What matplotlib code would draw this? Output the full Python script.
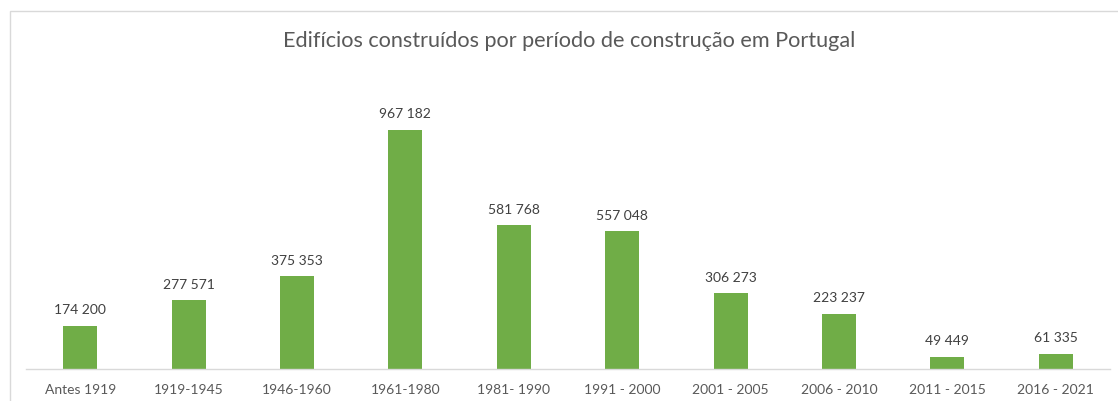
import matplotlib.pyplot as plt
from matplotlib.patches import Rectangle

# ==============================
# Data
# ==============================
periods = ["Antes 1919", "1919-1945", "1946-1960", "1961-1980", "1981- 1990",
           "1991 - 2000", "2001 - 2005", "2006 - 2010", "2011 - 2015", "2016 - 2021"]
buildings = [174200, 277571, 375353, 967182, 581768,
             557048, 306273, 223237, 49449, 61335]

W, H = 1118, 401
plt.rcParams['font.family'] = ['Lato', 'DejaVu Sans']

fig = plt.figure(figsize=(W / 100, H / 100), dpi=100)
fig.patch.set_facecolor("white")

# chart frame (Excel-style border)
fig.patches.append(Rectangle((10 / W, -0.1), (W - 10 + 20) / W, 1.1 - 11 / H,
                             transform=fig.transFigure, fill=False,
                             edgecolor="#D9D9D9", linewidth=1))

# plot area in pixel coords
left, right = 26, 1110
top, bottom = 72.5, 369
ax = fig.add_axes([left / W, 1 - bottom / H, (right - left) / W, (bottom - top) / H])

x = range(len(periods))
ax.bar(x, buildings, width=0.315, color="#70AD47")
ax.set_xlim(-0.5, len(periods) - 0.5)
ax.set_ylim(0, 1200000)

for xi, v in zip(x, buildings):
    ax.annotate(f"{v:,}".replace(",", " "), (xi, v), xytext=(0, 7),
                textcoords="offset points", ha="center", va="bottom",
                fontsize=10, color="#404040")

ax.set_xticks(list(x))
ax.set_xticklabels(periods, fontsize=10, color="#595959")
ax.tick_params(axis="x", length=0, pad=11)
ax.set_yticks([])
for s in ["top", "right", "left"]:
    ax.spines[s].set_visible(False)
ax.spines["bottom"].set_color("#D9D9D9")
ax.spines["bottom"].set_linewidth(1)

fig.text(569 / W, 1 - 41 / H, "Edifícios construídos por período de construção em Portugal",
         ha="center", va="center", fontsize=15.6, color="#595959")

fig.savefig("out.png", dpi=100)
